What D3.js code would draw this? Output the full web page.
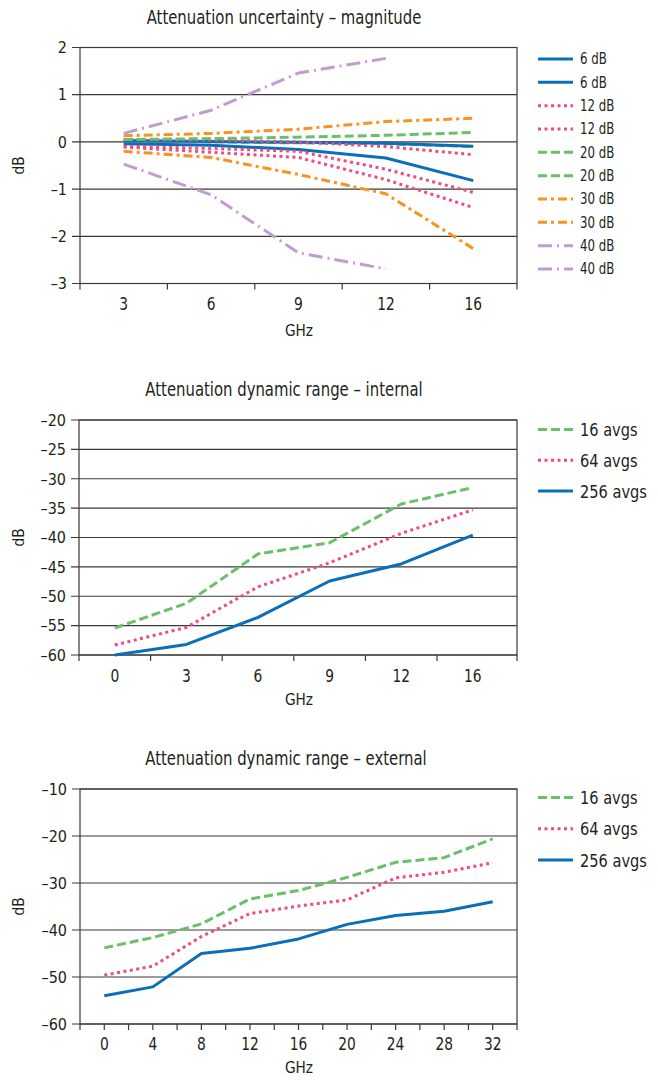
<!DOCTYPE html>
<html>
<head>
<meta charset="utf-8">
<script src="https://cdn.jsdelivr.net/npm/d3@7/dist/d3.min.js"></script>
<style>
  html, body { margin: 0; padding: 0; background: #fff; }
  svg text { font-family: "Liberation Sans Narrow", "DejaVu Sans Condensed", "Roboto", sans-serif; fill: #231f20; }
</style>
</head>
<body>
<svg id="chart" width="658" height="1080"></svg>
<script>
// ---------- Chart 1: Attenuation uncertainty – magnitude ----------
const magCats = ["3", "6", "9", "12", "16"];
const magTicks = [2, 1, 0, -1, -2, -3];
const mag6dbUpper  = [0.03, 0.01, -0.01, -0.03, -0.09];
const mag6dbLower  = [-0.04, -0.07, -0.16, -0.34, -0.82];
const mag12dbUpper = [0.05, 0.04, 0.0, -0.1, -0.27];
const mag12dbLower = [-0.09, -0.14, -0.2, -0.58, -1.07];
const mag12dbExtra = [-0.11, -0.22, -0.33, -0.8, -1.39];
const mag20dbUpper = [0.05, 0.07, 0.1, 0.14, 0.2];
const mag20dbLower = [0.02, 0.0, -0.02, -0.04, -0.1];
const mag30dbUpper = [0.13, 0.18, 0.27, 0.43, 0.5];
const mag30dbLower = [-0.2, -0.33, -0.69, -1.1, -2.26];
const mag40dbUpper = [0.18, 0.67, 1.46, 1.77, null];
const mag40dbLower = [-0.47, -1.12, -2.35, -2.69, null];
const magLegend = ["6 dB", "6 dB", "12 dB", "12 dB", "20 dB", "20 dB", "30 dB", "30 dB", "40 dB", "40 dB"];

// ---------- Chart 2: Attenuation dynamic range – internal ----------
const intCats = ["0", "3", "6", "9", "12", "16"];
const intTicks = [-20, -25, -30, -35, -40, -45, -50, -55, -60];
const int16avgs  = [-55.4, -51.2, -42.8, -40.9, -34.3, -31.5];
const int64avgs  = [-58.3, -55.3, -48.4, -44.3, -39.3, -35.3];
const int256avgs = [-60.0, -58.2, -53.6, -47.4, -44.5, -39.6];

// ---------- Chart 3: Attenuation dynamic range – external ----------
const extFreqs = [0, 4, 8, 12, 16, 20, 24, 28, 32];
const extTicks = [-10, -20, -30, -40, -50, -60];
const ext16avgs  = [-43.8, -41.6, -38.7, -33.4, -31.6, -28.8, -25.6, -24.6, -20.6];
const ext64avgs  = [-49.6, -47.7, -41.4, -36.5, -34.9, -33.6, -28.9, -27.7, -25.7];
const ext256avgs = [-54.0, -52.1, -45.0, -43.9, -41.9, -38.8, -36.9, -36.0, -34.0];
const avgLegend = ["16 avgs", "64 avgs", "256 avgs"];

// ---------- styles ----------
const ST = {
  blue:   { color: "#0a6fba", dash: null },
  pink:   { color: "#ee4c7f", dash: "3,3.5" },
  green:  { color: "#6bbf6a", dash: "9,4" },
  orange: { color: "#f7931e", dash: "9,4,3,4" },
  purple: { color: "#c49bd0", dash: "14,5,2,5" }
};
const LW = 3;
const svg = d3.select("#chart");

function frame(g, x0, x1, y0, y1) {
  g.append("rect").attr("x", x0).attr("y", y0).attr("width", x1 - x0).attr("height", y1 - y0)
    .attr("fill", "none").attr("stroke", "#3a3a3a").attr("stroke-width", 1.2);
}

function yAxis(g, y, ticks, x0, x1, fmt) {
  ticks.forEach(t => {
    g.append("line").attr("x1", x0 - 8).attr("x2", x1).attr("y1", y(t)).attr("y2", y(t))
      .attr("stroke", "#3a3a3a").attr("stroke-width", 1.2);
    g.append("text").attr("x", x0 - 13).attr("y", y(t)).attr("dy", "0.36em")
      .attr("text-anchor", "end").attr("font-size", 16).attr("data-sx", 1).text(fmt(t));
  });
}

function xLabel(g, x, yb, txt) {
  g.append("text").attr("x", x).attr("y", yb).attr("text-anchor", "middle")
    .attr("font-size", 18).attr("data-sx", 0.85).text(txt);
}

function drawLines(g, xs, y, series) {
  series.forEach(s => {
    const pts = s.values.map((v, i) => [xs[i], v]);
    const line = d3.line().defined(d => d[1] != null).x(d => d[0]).y(d => y(d[1]));
    g.append("path").datum(pts).attr("d", line).attr("fill", "none")
      .attr("stroke", s.style.color).attr("stroke-width", LW)
      .attr("stroke-dasharray", s.style.dash).attr("stroke-linejoin", "round");
  });
}

function legend(g, items, x, y0, step, fs, sx) {
  items.forEach((it, i) => {
    const yy = y0 + i * step;
    g.append("line").attr("x1", x).attr("x2", x + 35).attr("y1", yy).attr("y2", yy)
      .attr("stroke", it.style.color).attr("stroke-width", LW).attr("stroke-dasharray", it.style.dash);
    g.append("text").attr("x", x + 42).attr("y", yy).attr("dy", "0.36em").attr("font-size", fs)
      .attr("data-sx", sx).text(it.label);
  });
}

function title(g, txt, x, y) {
  g.append("text").attr("x", x).attr("y", y).attr("text-anchor", "middle").attr("font-size", 19)
    .attr("data-sx", 0.87).text(txt);
}
function axisLabels(g, cx, yGHz, cy) {
  g.append("text").attr("x", cx).attr("y", yGHz).attr("text-anchor", "middle").attr("font-size", 16)
    .attr("data-sx", 0.95).text("GHz");
  g.append("text").attr("transform", `translate(24,${cy}) rotate(-90)`).attr("text-anchor", "middle")
    .attr("font-size", 16).attr("data-sx", 0.95).text("dB");
}
const fmtNum = d => d < 0 ? "\u2013" + Math.abs(d) : String(d);

// ===== Chart 1 =====
{
  const L = 80, R = 517, T = 47.5, B = 283.5;
  const g = svg.append("g");
  const x = d3.scaleBand().domain(magCats).range([L, R]);
  const y = d3.scaleLinear().domain([-3, 2]).range([B, T]);
  title(g, "Attenuation uncertainty \u2013 magnitude", 284, 24);
  yAxis(g, y, magTicks, L, R, fmtNum);
  frame(g, L, R, T, B);
  magCats.forEach(c => {
    g.append("line").attr("x1", x(c)).attr("x2", x(c)).attr("y1", B).attr("y2", B + 6).attr("stroke", "#3a3a3a").attr("stroke-width", 1.2);
    xLabel(g, x(c) + x.bandwidth() / 2, B + 26, c);
  });
  g.append("line").attr("x1", R).attr("x2", R).attr("y1", B).attr("y2", B + 6).attr("stroke", "#3a3a3a").attr("stroke-width", 1.2);
  axisLabels(g, 299, B + 52, (T + B) / 2);
  const xs = magCats.map(c => x(c) + x.bandwidth() / 2);
  drawLines(g, xs, y, [
    { values: mag20dbLower, style: ST.green },
    { values: mag6dbUpper, style: ST.blue },
    { values: mag6dbLower, style: ST.blue },
    { values: mag12dbUpper, style: ST.pink },
    { values: mag12dbLower, style: ST.pink },
    { values: mag12dbExtra, style: ST.pink },
    { values: mag20dbUpper, style: ST.green },
    { values: mag30dbUpper, style: ST.orange },
    { values: mag30dbLower, style: ST.orange },
    { values: mag40dbUpper, style: ST.purple },
    { values: mag40dbLower, style: ST.purple }
  ]);
  const styles = [ST.blue, ST.blue, ST.pink, ST.pink, ST.green, ST.green, ST.orange, ST.orange, ST.purple, ST.purple];
  legend(g, magLegend.map((l, i) => ({ label: l, style: styles[i] })), 538, 59, 23.33, 15, 0.87);
}

// ===== Chart 2 =====
{
  const L = 79, R = 517, T = 420, B = 655;
  const g = svg.append("g");
  const x = d3.scaleBand().domain(intCats).range([L, L + 6 * 71.6]);
  const y = d3.scaleLinear().domain([-60, -20]).range([B, T]);
  title(g, "Attenuation dynamic range \u2013 internal", 284, 396);
  yAxis(g, y, intTicks, L, R, fmtNum);
  frame(g, L, R, T, B);
  intCats.forEach(c => {
    g.append("line").attr("x1", x(c)).attr("x2", x(c)).attr("y1", B).attr("y2", B + 6).attr("stroke", "#3a3a3a").attr("stroke-width", 1.2);
    xLabel(g, x(c) + x.bandwidth() / 2, B + 27, c);
  });
  g.append("line").attr("x1", R).attr("x2", R).attr("y1", B).attr("y2", B + 6).attr("stroke", "#3a3a3a").attr("stroke-width", 1.2);
  axisLabels(g, 299, B + 50, (T + B) / 2);
  const xs = intCats.map(c => x(c) + x.bandwidth() / 2);
  drawLines(g, xs, y, [
    { values: int256avgs, style: ST.blue },
    { values: int64avgs, style: ST.pink },
    { values: int16avgs, style: ST.green }
  ]);
  legend(g, avgLegend.map((l, i) => ({ label: l, style: [ST.green, ST.pink, ST.blue][i] })), 538, 429.5, 30.8, 18, 0.9);
}

// ===== Chart 3 =====
{
  const L = 80, R = 517, T = 789, B = 1024;
  const g = svg.append("g");
  const x = d3.scaleLinear().domain([-2, 34]).range([L, R]);
  const y = d3.scaleLinear().domain([-60, -10]).range([B, T]);
  title(g, "Attenuation dynamic range \u2013 external", 286, 765);
  yAxis(g, y, extTicks, L, R, fmtNum);
  frame(g, L, R, T, B);
  d3.range(-2, 35, 2).forEach(t => {
    g.append("line").attr("x1", x(t)).attr("x2", x(t)).attr("y1", B).attr("y2", B + 6).attr("stroke", "#3a3a3a").attr("stroke-width", 1.2);
  });
  extFreqs.forEach(f => xLabel(g, x(f), B + 26, String(f)));
  axisLabels(g, 299, B + 49, (T + B) / 2);
  const xs = extFreqs.map(f => x(f));
  drawLines(g, xs, y, [
    { values: ext256avgs, style: ST.blue },
    { values: ext64avgs, style: ST.pink },
    { values: ext16avgs, style: ST.green }
  ]);
  legend(g, avgLegend.map((l, i) => ({ label: l, style: [ST.green, ST.pink, ST.blue][i] })), 538, 797.5, 31.3, 18, 0.9);
}

// condense text horizontally to mimic the narrow typeface of the original
svg.selectAll("text").each(function () {
  const sx = +(this.getAttribute("data-sx") || 1);
  const w = this.getComputedTextLength();
  if (w > 0 && sx !== 1) {
    this.setAttribute("textLength", (w * sx).toFixed(1));
    this.setAttribute("lengthAdjust", "spacingAndGlyphs");
  }
});
</script>
</body>
</html>
